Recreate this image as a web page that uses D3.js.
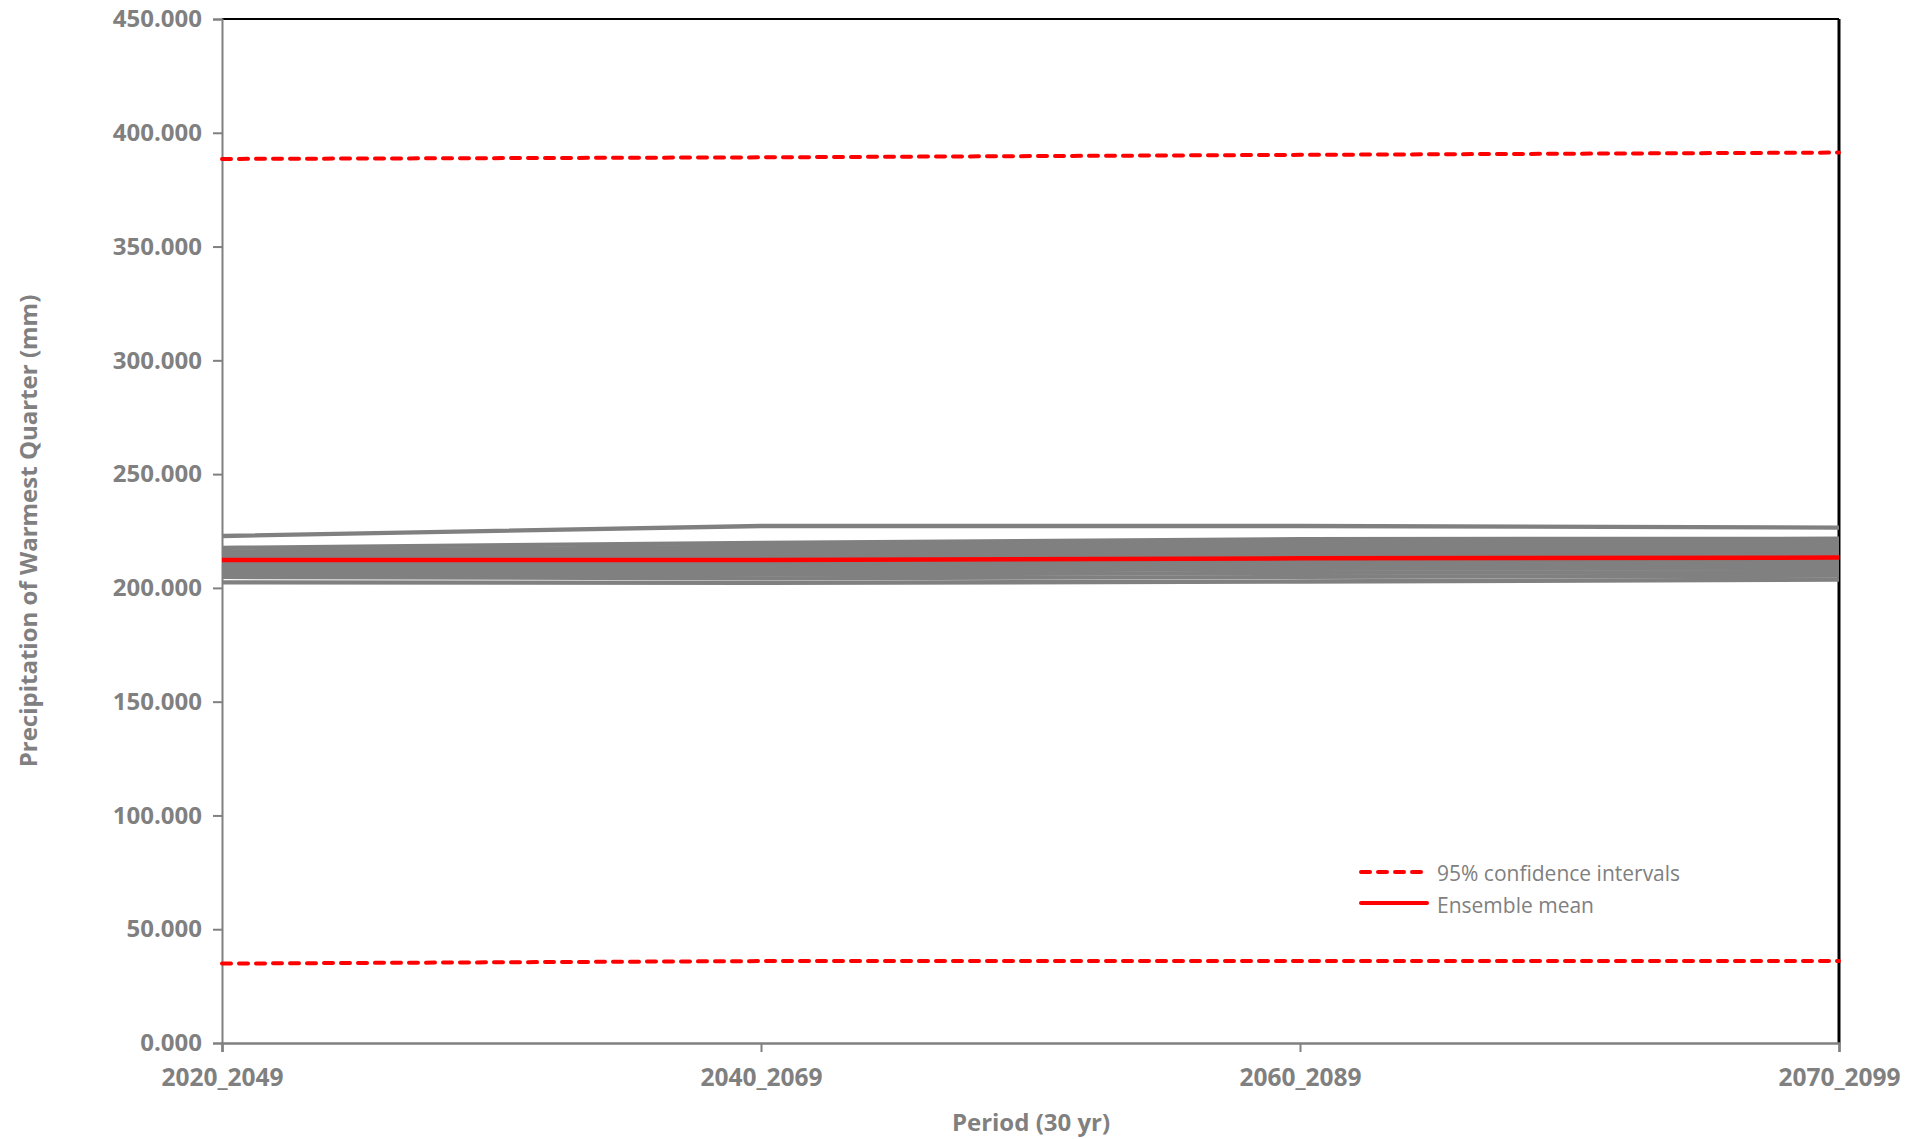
<!DOCTYPE html>
<html>
<head>
<meta charset="utf-8">
<script src="https://cdn.jsdelivr.net/npm/d3@7"></script>
<style>
  html, body { margin: 0; padding: 0; background: #fff; }
  svg { display: block; }
</style>
</head>
<body>
<svg id="chart" width="1927" height="1139"></svg>
<script>
// ---- Data ----
const periods = ["2020_2049", "2040_2069", "2060_2089", "2070_2099"];
const yTicks = [0, 50, 100, 150, 200, 250, 300, 350, 400, 450];

// Individual model (ensemble member) series
const model01 = [222.8, 227.2, 227.2, 226.5];
const model02 = [217.6, 219.8, 221.4, 221.6];
const model03 = [216.0, 218.2, 220.4, 220.6];
const model04 = [215.2, 217.2, 219.4, 219.8];
const model05 = [214.3, 216.2, 218.4, 218.8];
const model06 = [213.5, 215.2, 217.4, 217.6];
const model07 = [212.8, 214.2, 216.4, 216.6];
const model08 = [211.8, 213.2, 215.2, 215.4];
const model09 = [210.8, 212.2, 214.0, 214.2];
const model10 = [209.8, 211.2, 212.8, 213.0];
const model11 = [208.8, 210.2, 211.6, 211.8];
const model12 = [207.8, 209.4, 210.4, 210.6];
const model13 = [206.8, 208.6, 209.4, 209.6];
const model14 = [205.8, 207.0, 208.4, 208.6];
const model15 = [205.0, 205.8, 206.6, 207.0];
const model16 = [204.8, 204.2, 204.8, 205.4];
const model17 = [202.4, 202.2, 202.8, 203.6];

const ensembleMean = [212.3, 212.3, 213.0, 213.3];
const ciUpper = [388.5, 389.2, 390.3, 391.3];
const ciLower = [34.9, 36.0, 36.0, 36.0];

const models = [model01, model02, model03, model04, model05, model06, model07, model08,
                model09, model10, model11, model12, model13, model14, model15, model16, model17];

// ---- Layout ----
const pLeft = 222, pRight = 1839, pTop = 19, pBottom = 1043;
const svg = d3.select("#chart");
const gray = "#808080";
const font = "'Open Sans', 'Liberation Sans', sans-serif";

const x = d3.scalePoint().domain(periods).range([pLeft, pRight]);
const y = d3.scaleLinear().domain([0, 450]).range([pBottom, pTop]);

// Frame: top and right black borders
svg.append("line").attr("x1", pLeft).attr("x2", pRight).attr("y1", pTop).attr("y2", pTop)
  .attr("stroke", "#000").attr("stroke-width", 2);
svg.append("line").attr("x1", pRight).attr("x2", pRight).attr("y1", pTop).attr("y2", pBottom)
  .attr("stroke", "#000").attr("stroke-width", 3);

// Y axis
const yAxis = svg.append("g").attr("transform", `translate(${pLeft},0)`)
  .call(d3.axisLeft(y).tickValues(yTicks).tickFormat(d3.format(".3f")).tickSize(9).tickPadding(11));
yAxis.select(".domain").attr("stroke", gray).attr("stroke-width", 2);
yAxis.selectAll(".tick line").attr("stroke", gray).attr("stroke-width", 2);
yAxis.selectAll(".tick text").attr("fill", gray).attr("font-family", font)
  .attr("font-weight", "bold").attr("font-size", 24);

// X axis
const xAxis = svg.append("g").attr("transform", `translate(0,${pBottom})`)
  .call(d3.axisBottom(x).tickSize(9).tickPadding(17));
xAxis.select(".domain").attr("stroke", gray).attr("stroke-width", 2.5);
xAxis.selectAll(".tick line").attr("stroke", gray).attr("stroke-width", 2);
xAxis.selectAll(".tick text").attr("fill", gray).attr("font-family", font)
  .attr("font-weight", "bold").attr("font-size", 24.5);

// Axis titles
svg.append("text").attr("x", 1031).attr("y", 1121).attr("text-anchor", "middle")
  .attr("dominant-baseline", "central")
  .attr("fill", gray).attr("font-family", font).attr("font-weight", "bold").attr("font-size", 24)
  .text("Period (30 yr)");
svg.append("text").attr("transform", "translate(27,531) rotate(-90)").attr("text-anchor", "middle")
  .attr("dominant-baseline", "central")
  .attr("fill", gray).attr("font-family", font).attr("font-weight", "bold").attr("font-size", 24)
  .text("Precipitation of Warmest Quarter (mm)");

// Lines
const line = d3.line().x((d, i) => x(periods[i])).y(d => y(d));

svg.append("g").selectAll("path").data(models).join("path")
  .attr("d", line).attr("fill", "none").attr("stroke", gray).attr("stroke-width", 4.3);

svg.append("path").datum(ciUpper).attr("d", line).attr("fill", "none")
  .attr("stroke", "#ff0000").attr("stroke-width", 4).attr("stroke-dasharray", "9,8")
  .attr("stroke-linecap", "round");
svg.append("path").datum(ciLower).attr("d", line).attr("fill", "none")
  .attr("stroke", "#ff0000").attr("stroke-width", 4).attr("stroke-dasharray", "9,8")
  .attr("stroke-linecap", "round");
svg.append("path").datum(ensembleMean).attr("d", line).attr("fill", "none")
  .attr("stroke", "#ff0000").attr("stroke-width", 4.5);

// Legend
const legend = svg.append("g");
legend.append("line").attr("x1", 1361).attr("x2", 1421).attr("y1", 872).attr("y2", 872)
  .attr("stroke", "#ff0000").attr("stroke-width", 4).attr("stroke-dasharray", "9,8")
  .attr("stroke-linecap", "round");
legend.append("line").attr("x1", 1361).attr("x2", 1427).attr("y1", 903).attr("y2", 903)
  .attr("stroke", "#ff0000").attr("stroke-width", 4).attr("stroke-linecap", "round");
legend.append("text").attr("x", 1437).attr("y", 873).attr("dominant-baseline", "central")
  .attr("fill", gray).attr("font-family", font).attr("font-size", 21)
  .text("95% confidence intervals");
legend.append("text").attr("x", 1437).attr("y", 905).attr("dominant-baseline", "central")
  .attr("fill", gray).attr("font-family", font).attr("font-size", 21)
  .text("Ensemble mean");
</script>
</body>
</html>
